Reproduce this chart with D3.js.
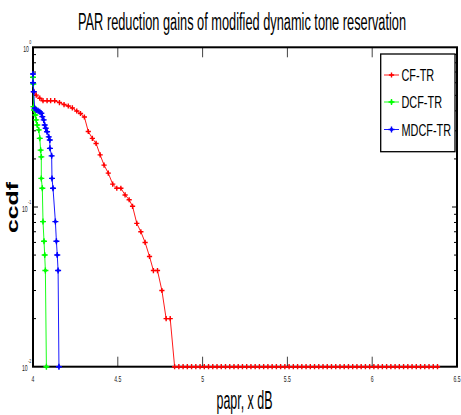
<!DOCTYPE html>
<html>
<head>
<meta charset="utf-8">
<script src="https://cdn.jsdelivr.net/npm/d3@7"></script>
<style>
  html, body { margin: 0; padding: 0; background: #fff; }
  svg { display: block; font-family: "Liberation Sans", Arial, sans-serif; }
</style>
</head>
<body>
<div id="chart"></div>
<script>
// values
const cfPapr = [4.006, 4.019, 4.04, 4.059, 4.083, 4.104, 4.128, 4.156, 4.183, 4.208, 4.232, 4.258,
  4.28, 4.303, 4.326, 4.35, 4.372, 4.396, 4.419, 4.444, 4.47, 4.494, 4.518, 4.543, 4.567, 4.587,
  4.612, 4.636, 4.661, 4.687, 4.71, 4.734, 4.76, 4.785, 4.809,
  4.835, 4.86, 4.885, 4.91, 4.935, 4.96, 4.985, 5.01, 5.035, 5.06, 5.085, 5.11, 5.135, 5.16, 5.185,
  5.21, 5.235, 5.26, 5.285, 5.31, 5.335, 5.36, 5.385, 5.41, 5.435, 5.46, 5.485, 5.51, 5.535, 5.56,
  5.585, 5.61, 5.635, 5.66, 5.685, 5.71, 5.735, 5.76, 5.785, 5.81, 5.835, 5.86, 5.885, 5.91, 5.935,
  5.96, 5.985, 6.01, 6.035, 6.06, 6.085, 6.11, 6.135, 6.16, 6.185, 6.21, 6.235, 6.26, 6.285, 6.31,
  6.335, 6.36, 6.385];
const cfCcdf = [0.527, 0.502, 0.48, 0.463, 0.463, 0.463, 0.463, 0.451, 0.438, 0.429, 0.417, 0.399,
  0.385, 0.366, 0.297, 0.269, 0.25, 0.212, 0.183, 0.163, 0.139, 0.131, 0.131, 0.119, 0.111, 0.101,
  0.079, 0.07, 0.06, 0.049, 0.04, 0.04, 0.03, 0.02, 0.02,
  0.01, 0.01, 0.01, 0.01, 0.01, 0.01, 0.01, 0.01, 0.01, 0.01, 0.01, 0.01, 0.01, 0.01, 0.01,
  0.01, 0.01, 0.01, 0.01, 0.01, 0.01, 0.01, 0.01, 0.01, 0.01, 0.01, 0.01, 0.01, 0.01, 0.01,
  0.01, 0.01, 0.01, 0.01, 0.01, 0.01, 0.01, 0.01, 0.01, 0.01, 0.01, 0.01, 0.01, 0.01, 0.01,
  0.01, 0.01, 0.01, 0.01, 0.01, 0.01, 0.01, 0.01, 0.01, 0.01, 0.01, 0.01, 0.01, 0.01, 0.01,
  0.01, 0.01, 0.01];

const dcfPapr = [4.0, 4.002, 4.003, 4.006, 4.014, 4.019, 4.025, 4.034, 4.04, 4.045, 4.049, 4.049,
  4.055, 4.059, 4.065, 4.069, 4.073, 4.079];
const dcfCcdf = [0.649, 0.589, 0.425, 0.405, 0.377, 0.351, 0.326, 0.304, 0.269, 0.227, 0.206, 0.151,
  0.131, 0.081, 0.061, 0.05, 0.04, 0.01];

const mdcfPapr = [4.0, 4.0, 4.004, 4.01, 4.019, 4.03, 4.04, 4.049, 4.055, 4.063, 4.069, 4.075, 4.083,
  4.093, 4.099, 4.1, 4.11, 4.112, 4.118, 4.132, 4.138, 4.143, 4.148, 4.153];
const mdcfCcdf = [0.681, 0.6, 0.527, 0.415, 0.405, 0.401, 0.395, 0.386, 0.368, 0.351, 0.326, 0.311,
  0.296, 0.275, 0.263, 0.233, 0.209, 0.151, 0.131, 0.081, 0.061, 0.05, 0.04, 0.01];

const seriesNames = ["CF-TR", "DCF-TR", "MDCF-TR"];
const seriesColors = ["#ff0000", "#00ff00", "#0000ff"];
const xTicks = [4, 4.5, 5, 5.5, 6, 6.5];
const xTickLabels = ["4", "4.5", "5", "5.5", "6", "6.5"];
const yDecades = [-2, -1, 0];

const width = 461, height = 415;
const plot = { left: 33, right: 457, top: 47.3, bottom: 366.7 };

const x = d3.scaleLinear().domain([4, 6.5]).range([plot.left, plot.right]);
const y = d3.scaleLog().domain([0.01, 1]).range([plot.bottom, plot.top]);

const svg = d3.select("#chart").append("svg")
  .attr("width", width).attr("height", height);

// squeeze text horizontally, the source figure uses a narrow face
function squeeze(sel, k) {
  sel.each(function () {
    const w = this.getComputedTextLength();
    d3.select(this).attr("textLength", w * k).attr("lengthAdjust", "spacingAndGlyphs");
  });
}

// x ticks, top and bottom, pointing inward
const gTicks = svg.append("g");
xTicks.slice(1, -1).forEach((v) => {
  gTicks.append("line").attr("x1", x(v)).attr("x2", x(v))
    .attr("y1", plot.bottom).attr("y2", plot.bottom - 10)
    .attr("stroke", "#444").attr("stroke-width", 1);
  gTicks.append("line").attr("x1", x(v)).attr("x2", x(v))
    .attr("y1", plot.top).attr("y2", plot.top + 10)
    .attr("stroke", "#444").attr("stroke-width", 1);
});

// log minor ticks on both sides
yDecades.slice(0, -1).forEach((e) => {
  d3.range(1, 10).forEach((m) => {
    const v = m * Math.pow(10, e);
    if (m === 1 && e === -2) return;
    const len = m === 1 ? 5 : 3;
    gTicks.append("line").attr("x1", plot.left).attr("x2", plot.left + len)
      .attr("y1", y(v)).attr("y2", y(v)).attr("stroke", "#000").attr("stroke-width", 1);
    gTicks.append("line").attr("x1", plot.right).attr("x2", plot.right - len)
      .attr("y1", y(v)).attr("y2", y(v)).attr("stroke", "#000").attr("stroke-width", 1);
  });
});

// box
svg.append("rect")
  .attr("x", plot.left).attr("y", plot.top)
  .attr("width", plot.right - plot.left).attr("height", plot.bottom - plot.top)
  .attr("fill", "none").attr("stroke", "#000").attr("stroke-width", 2);

// x tick labels
svg.append("g").selectAll("text")
  .data(xTicks)
  .join("text")
  .attr("x", (d) => x(d))
  .attr("y", 382)
  .attr("text-anchor", "middle")
  .attr("font-size", 8.5)
  .attr("fill", "#222")
  .text((d, i) => xTickLabels[i])
  .call(squeeze, 0.6);

// y tick labels: 10 with exponent
yDecades.forEach((e) => {
  const cy = y(Math.pow(10, e));
  const sup = svg.append("text")
    .attr("x", 31.3).attr("y", cy - 3.5)
    .attr("text-anchor", "end").attr("font-size", 6).attr("fill", "#222")
    .text(String(e)).call(squeeze, 0.6);
  const w = sup.node().getComputedTextLength();
  svg.append("text")
    .attr("x", 31.3 - w - 0.4).attr("y", cy + 4.5)
    .attr("text-anchor", "end").attr("font-size", 8.5).attr("fill", "#222")
    .text("10").call(squeeze, 0.6);
});

// markers: plus with a small filled centre
function marker(g, cx, cy, color, big) {
  const a = big ? 3 : 2.6;
  const r = big ? 2.2 : 1.3;
  g.append("path")
    .attr("d", `M${cx - a},${cy}H${cx + a}M${cx},${cy - a}V${cy + a}`)
    .attr("stroke", color).attr("stroke-width", 1.4);
  g.append("path")
    .attr("d", `M${cx - r},${cy}L${cx},${cy - r}L${cx + r},${cy}L${cx},${cy + r}Z`)
    .attr("fill", color);
}

const series = [
  { papr: cfPapr, ccdf: cfCcdf },
  { papr: dcfPapr, ccdf: dcfCcdf },
  { papr: mdcfPapr, ccdf: mdcfCcdf },
];

const line = d3.line().x((d) => x(d[0])).y((d) => y(d[1]));

series.forEach((s, i) => {
  const pts = s.papr.map((p, j) => [p, s.ccdf[j]]);
  const g = svg.append("g");
  g.append("path")
    .attr("d", line(pts))
    .attr("fill", "none")
    .attr("stroke", seriesColors[i])
    .attr("stroke-width", 0.9);
  pts.forEach((d) => marker(g, x(d[0]), y(d[1]), seriesColors[i], i > 0));
});

// legend
const legend = svg.append("g");
legend.append("rect")
  .attr("x", 380.7).attr("y", 54).attr("width", 74.3).attr("height", 97.7)
  .attr("fill", "#fff").attr("stroke", "#000").attr("stroke-width", 1.3);
const legendY = [75, 102, 129.5];
seriesNames.forEach((name, i) => {
  legend.append("line")
    .attr("x1", 384).attr("x2", 399).attr("y1", legendY[i]).attr("y2", legendY[i])
    .attr("stroke", seriesColors[i]).attr("stroke-width", 0.9);
  marker(legend, 391.5, legendY[i], seriesColors[i], i > 0);
  legend.append("text")
    .attr("x", 401.5).attr("y", legendY[i] + 6)
    .attr("font-size", 16).attr("fill", "#000")
    .text(name).call(squeeze, 0.68);
});

// title and axis labels
svg.append("text")
  .attr("x", 242).attr("y", 29.5)
  .attr("text-anchor", "middle").attr("font-size", 23)
  .attr("textLength", 328).attr("lengthAdjust", "spacingAndGlyphs")
  .text("PAR reduction gains of modified dynamic tone reservation");

svg.append("text")
  .attr("x", 244.5).attr("y", 409)
  .attr("text-anchor", "middle").attr("font-size", 25)
  .attr("textLength", 56).attr("lengthAdjust", "spacingAndGlyphs")
  .text("papr, x dB");

svg.append("text")
  .attr("transform", "translate(18,207.5) rotate(-90)")
  .attr("text-anchor", "middle").attr("font-size", 16).attr("font-weight", "bold")
  .attr("textLength", 51).attr("lengthAdjust", "spacingAndGlyphs")
  .text("ccdf");
</script>
</body>
</html>
